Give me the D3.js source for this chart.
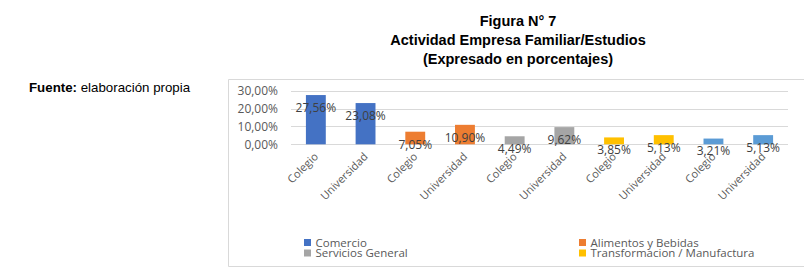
<!DOCTYPE html>
<html>
<head>
<meta charset="utf-8">
<script src="https://cdn.jsdelivr.net/npm/d3@7"></script>
<style>
  body { margin: 0; background: #fff; }
  svg { display: block; }
</style>
</head>
<body>
<svg id="chart"></svg>
<script>
// chart data
const groups = ["Comercio", "Alimentos y Bebidas", "Servicios General", "Transformacion / Manufactura", "Otros"];
const levels = ["Colegio", "Universidad"];
const colegioValues = [27.56, 7.05, 4.49, 3.85, 3.21];
const universidadValues = [23.08, 10.90, 9.62, 5.13, 5.13];
const legendItems = ["Comercio", "Alimentos y Bebidas", "Servicios General", "Transformacion / Manufactura"];
const yTicks = [0, 10, 20, 30];
const titleLines = ["Figura N° 7", "Actividad Empresa Familiar/Estudios", "(Expresado en porcentajes)"];

const colors = ["#4472C4", "#ED7D31", "#A5A5A5", "#FFC000", "#5B9BD5"];

// flatten into one row per bar
var rows = [];
groups.forEach(function (g, i) {
    rows.push({ id: i * 2, group: g, gi: i, level: levels[0], value: colegioValues[i] });
    rows.push({ id: i * 2 + 1, group: g, gi: i, level: levels[1], value: universidadValues[i] });
});

const width = 804, height = 272;
const svg = d3.select("#chart").attr("width", width).attr("height", height);

const loc = d3.formatLocale({ decimal: ",", thousands: ".", grouping: [3], currency: ["", ""] });
const pct = v => loc.format(".2f")(v) + "%";

// titles
svg.append("g")
    .selectAll("text")
    .data(titleLines)
    .join("text")
    .attr("x", 518)
    .attr("y", (d, i) => 26 + i * 19)
    .attr("text-anchor", "middle")
    .style("font-family", "Liberation Sans, Arial, sans-serif")
    .style("font-weight", "bold")
    .style("font-size", "14.5px")
    .style("fill", "#000")
    .text(d => d);

// source note
var note = svg.append("text")
    .attr("x", 29)
    .attr("y", 92)
    .style("font-family", "Liberation Sans, Arial, sans-serif")
    .style("font-size", "13.3px")
    .style("fill", "#000");
note.append("tspan").style("font-weight", "bold").text("Fuente:");
note.append("tspan").text(" elaboración propia");

// chart frame (right edge falls outside the picture)
svg.append("path")
    .attr("d", "M804,79.5 H228.5 V266.5 H804")
    .attr("fill", "none")
    .attr("stroke", "#d9d9d9")
    .attr("stroke-width", 1);

const x = d3.scaleBand()
    .domain(rows.map(d => d.id))
    .range([291, 788])
    .paddingInner(0.6)
    .paddingOuter(0.3);

const y = d3.scaleLinear()
    .domain([0, 30])
    .range([144.3, 90.7]);

const font = "'Open Sans', sans-serif";

// gridlines
svg.append("g")
    .selectAll("line")
    .data(yTicks)
    .join("line")
    .attr("x1", 291)
    .attr("x2", 788)
    .attr("y1", d => Math.round(y(d)) + 0.5)
    .attr("y2", d => Math.round(y(d)) + 0.5)
    .attr("stroke", "#d9d9d9")
    .attr("stroke-width", 1);

// y tick labels
svg.append("g")
    .selectAll("text")
    .data(yTicks)
    .join("text")
    .attr("x", 278)
    .attr("y", d => y(d))
    .attr("dy", "0.35em")
    .attr("text-anchor", "end")
    .style("font-family", font)
    .style("font-size", "12px")
    .style("fill", "#595959")
    .text(d => pct(d));

// bars
svg.append("g")
    .selectAll("rect")
    .data(rows)
    .join("rect")
    .attr("x", d => x(d.id))
    .attr("width", x.bandwidth())
    .attr("y", d => y(d.value))
    .attr("height", d => y(0) - y(d.value))
    .attr("fill", d => colors[d.gi]);

// value labels
svg.append("g")
    .selectAll("text")
    .data(rows)
    .join("text")
    .attr("x", d => x(d.id) + x.bandwidth() / 2)
    .attr("y", d => y(d.value) + 12.7)
    .attr("dy", "0.35em")
    .attr("text-anchor", "middle")
    .style("font-family", font)
    .style("font-size", "12px")
    .style("fill", "#404040")
    .text(d => pct(d.value));

// category labels, rotated
svg.append("g")
    .selectAll("text")
    .data(rows)
    .join("text")
    .attr("transform", d => "translate(" + (x(d.id) + x.bandwidth() / 2 + 3) + "," + (y(0) + 13) + ") rotate(-45)")
    .attr("text-anchor", "end")
    .style("font-family", font)
    .style("font-size", "11px")
    .style("fill", "#595959")
    .text(d => d.level);

// legend
var leg = svg.append("g")
    .selectAll("g")
    .data(legendItems)
    .join("g")
    .attr("transform", (d, i) => "translate(" + (i % 2 === 0 ? 304 : 579) + "," + (239 + Math.floor(i / 2) * 10.5) + ")");

leg.append("rect")
    .attr("width", 7)
    .attr("height", 7)
    .attr("fill", d => colors[groups.indexOf(d)]);

leg.append("text")
    .attr("x", 11.5)
    .attr("y", 3.5)
    .attr("dy", "0.35em")
    .style("font-family", font)
    .style("font-size", "11.5px")
    .style("fill", "#595959")
    .text(d => d);
</script>
</body>
</html>
